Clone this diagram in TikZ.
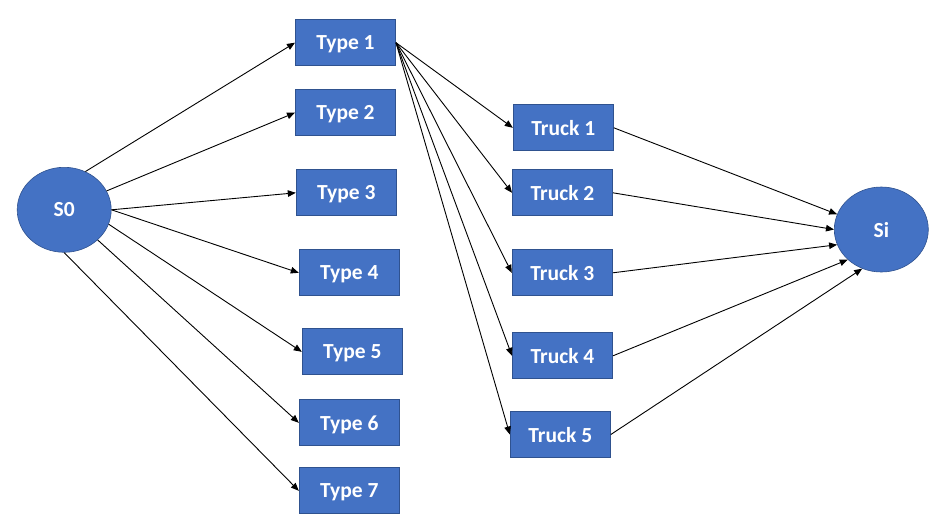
\documentclass[tikz,border=0pt]{standalone}
\usepackage{fontspec}
\setmainfont{Carlito}
\usetikzlibrary{shapes.geometric,arrows.meta}
\definecolor{boxfill}{HTML}{4472C4}
\definecolor{boxline}{HTML}{2F528F}
\begin{document}
\begin{tikzpicture}[x=1pt,y=-1pt,
  box/.style={rectangle, draw=boxline, fill=boxfill, line width=1pt,
    minimum width=100pt, minimum height=46pt, inner sep=0pt, text=white,
    text depth=0pt, font=\fontsize{21.5}{24}\selectfont\bfseries},
  oval/.style={ellipse, draw=boxline, fill=boxfill, line width=0.6pt,
    minimum width=94pt, minimum height=85pt, inner sep=0pt, text=white,
    text depth=0pt, font=\fontsize{21.5}{24}\selectfont\bfseries},
  conn/.style={line width=0.9pt, -{Triangle[length=8pt,width=6.5pt]}}]
\useasboundingbox (0,0) rectangle (950,525);
\fill[white] (0,0) rectangle (950,525);

\node[oval] (S0) at (64.2,209.8) {S0};
\node[oval] (Si) at (881.3,229.5) {Si};

\node[box] (t1) at (345.5,42.7) {Type 1};
\node[box] (t2) at (345.5,112.7) {Type 2};
\node[box] (t3) at (346.3,192.8) {Type 3};
\node[box] (t4) at (349.3,272.8) {Type 4};
\node[box] (t5) at (352.3,351.8) {Type 5};
\node[box] (t6) at (349.3,422.8) {Type 6};
\node[box] (t7) at (349.3,490.8) {Type 7};

\node[box] (k1) at (563.3,127.8) {Truck 1};
\node[box] (k2) at (562.5,192.8) {Truck 2};
\node[box] (k3) at (562.3,272.8) {Truck 3};
\node[box] (k4) at (562.5,355.8) {Truck 4};
\node[box] (k5) at (560.3,434.5) {Truck 5};

\draw[conn] (S0.61) -- (t1.west);
\draw[conn] (S0.24) -- (t2.west);
\draw[conn] (S0.east) -- (t3.west);
\draw[conn] (S0.east) -- (t4.west);
\draw[conn] (S0.-18) -- (t5.west);
\draw[conn] (S0.-42) -- (t6.west);
\draw[conn] (S0.south) -- (t7.west);

\draw[conn] (t1.east) -- (k1.west);
\draw[conn] (t1.east) -- (k2.west);
\draw[conn] (t1.east) -- (k3.west);
\draw[conn] (t1.east) -- (k4.west);
\draw[conn] (t1.east) -- (k5.west);

\draw[conn] (k1.east) -- (Si.161);
\draw[conn] (k2.east) -- (Si.180);
\draw[conn] (k3.east) -- (Si.199);
\draw[conn] (k4.east) -- (Si.222);
\draw[conn] (k5.east) -- (Si.244);
\end{tikzpicture}
\end{document}
